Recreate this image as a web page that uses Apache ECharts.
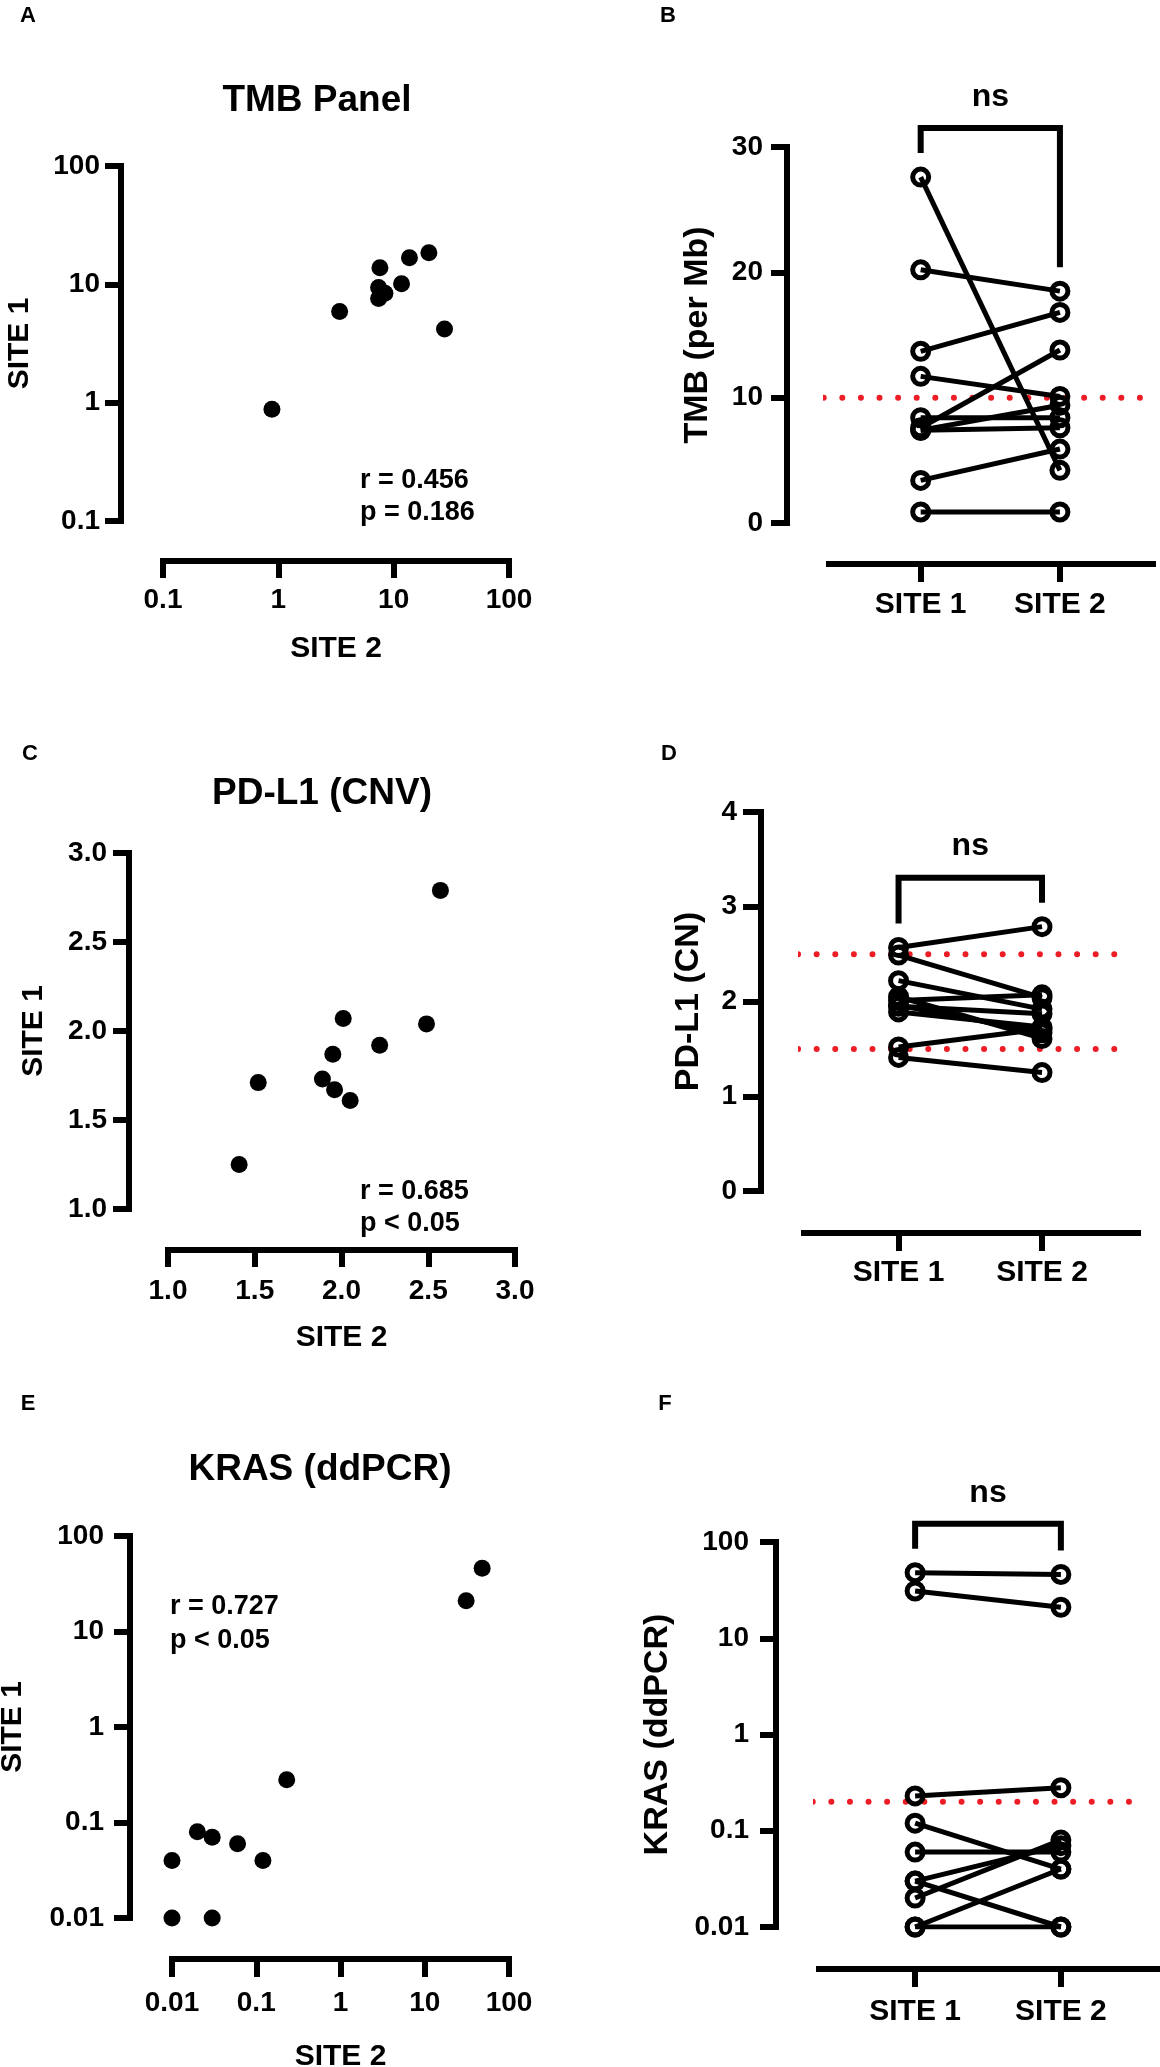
<!DOCTYPE html>
<html>
<head>
<meta charset="utf-8">
<title>Site 1 vs Site 2</title>
<script src="https://cdn.jsdelivr.net/npm/echarts@6/dist/echarts.min.js"></script>
<style>
  html, body { margin: 0; padding: 0; background: #fff; }
  #main { width: 1160px; height: 2067px; }
</style>
</head>
<body>
<div id="main"></div>
<script>
// ---- data ----
var siteNames = ['SITE 1', 'SITE 2'];

// TMB (per Mb), one entry per patient
var tmbSite1 = [27.6, 20.2, 13.7, 11.7, 8.4, 7.6, 7.4, 7.4, 3.4, 0.88];
var tmbSite2 = [4.2, 18.5, 16.8, 10.1, 8.4, 13.8, 9.4, 7.6, 5.9, 0.88];

// PD-L1 copy number
var pdl1Site1 = [2.57, 2.49, 2.22, 2.05, 2.01, 1.96, 1.95, 1.89, 1.52, 1.41];
var pdl1Site2 = [2.79, 2.04, 1.92, 1.61, 2.07, 1.67, 1.87, 1.73, 1.71, 1.25];

// KRAS ddPCR
var krasSite1 = [48, 31, 0.23, 0.12, 0.06, 0.02, 0.03, 0.01, 0.01, 0.03];
var krasSite2 = [46, 21, 0.28, 0.04, 0.06, 0.08, 0.07, 0.04, 0.01, 0.01];

// cut-offs (red dotted lines)
var tmbCut = [10];
var pdl1Cut = [2.5, 1.5];
var krasCut = [0.2];

var statsText = ['r = 0.456\np = 0.186', 'r = 0.685\np < 0.05', 'r = 0.727\np < 0.05'];
var titles = ['TMB Panel', 'PD-L1 (CNV)', 'KRAS (ddPCR)'];

var FONT = '"Liberation Sans", Arial, sans-serif';
var RED = '#ee1c25';

var chart = echarts.init(document.getElementById('main'));

function fmtNum(v) { return String(+(+v).toPrecision(6)); }
function fmtSite(v) { return siteNames[Math.round(v) - 1]; }

// one axis, GraphPad look: thick black line, outside ticks, bold labels
function axis(o) {
	var a = {
		gridIndex: o.grid,
		type: o.type,
		min: o.min,
		max: o.max,
		offset: o.offset,
		name: o.name || '',
		nameLocation: 'middle',
		nameGap: o.nameGap || 0,
		nameMoveOverlap: false,
		nameTextStyle: { fontSize: o.nameSize || 30, fontWeight: 'bold', color: '#000', fontFamily: FONT },
		axisLine: { show: true, onZero: false, lineStyle: { color: '#000', width: 6, cap: o.custom ? 'butt' : 'square' } },
		axisTick: { show: true, length: o.tickLen || 16, lineStyle: { color: '#000', width: 6 } },
		axisLabel: {
			margin: o.margin,
			fontSize: o.labelSize || 28,
			fontWeight: 'bold',
			color: '#000',
			fontFamily: FONT
		},
		splitLine: { show: false },
		minorTick: { show: false },
		minorSplitLine: { show: false }
	};
	if (o.formatter) a.axisLabel.formatter = o.formatter;
	if (o.interval != null) a.interval = o.interval;
	if (o.type === 'log') a.logBase = 10;
	if (o.custom) {
		a.axisTick.customValues = o.custom;
		a.axisLabel.customValues = o.custom;
	}
	return a;
}

var grids = [
	{ left: 163, top: 166, width: 346, height: 355 },   // A
	{ left: 826, top: 147, width: 330, height: 376 },   // B
	{ left: 168, top: 853, width: 347, height: 356 },   // C
	{ left: 801, top: 812, width: 340, height: 379 },   // D
	{ left: 172, top: 1536, width: 337, height: 382 },  // E
	{ left: 816, top: 1542, width: 344, height: 385 }   // F
].map(function (g) { g.containLabel = false; g.outerBoundsMode = 'none'; return g; });

var xAxes = [
	axis({ grid: 0, type: 'log', min: 0.1, max: 100, interval: 1, offset: 40, margin: 25, name: 'SITE 2', nameGap: 73, tickLen: 17, formatter: fmtNum }),
	axis({ grid: 1, type: 'value', min: 0.32, max: 2.69, offset: 41, margin: 26, custom: [1, 2], labelSize: 30, tickLen: 18, formatter: fmtSite }),
	axis({ grid: 2, type: 'value', min: 1, max: 3, interval: 0.5, offset: 41, margin: 27, name: 'SITE 2', nameGap: 73, tickLen: 17, formatter: function (v) { return v.toFixed(1); } }),
	axis({ grid: 3, type: 'value', min: 0.32, max: 2.69, offset: 42, margin: 25, custom: [1, 2], labelSize: 30, tickLen: 18, formatter: fmtSite }),
	axis({ grid: 4, type: 'log', min: 0.01, max: 100, interval: 1, offset: 41, margin: 30, name: 'SITE 2', nameGap: 83, tickLen: 18, formatter: fmtNum }),
	axis({ grid: 5, type: 'value', min: 0.32, max: 2.68, offset: 42, margin: 28, custom: [1, 2], labelSize: 30, tickLen: 18, formatter: fmtSite })
];

var yAxes = [
	axis({ grid: 0, type: 'log', min: 0.1, max: 100, interval: 1, offset: 42, margin: 21, name: 'SITE 1', nameGap: 86, formatter: fmtNum }),
	axis({ grid: 1, type: 'value', min: 0, max: 30, interval: 10, offset: 39, margin: 24, name: 'TMB (per Mb)', nameGap: 72, nameSize: 34 }),
	axis({ grid: 2, type: 'value', min: 1, max: 3, interval: 0.5, offset: 39, margin: 22, name: 'SITE 1', nameGap: 80, formatter: function (v) { return v.toFixed(1); } }),
	axis({ grid: 3, type: 'value', min: 0, max: 4, interval: 1, offset: 40, margin: 24, name: 'PD-L1 (CN)', nameGap: 55, nameSize: 34, tickLen: 18 }),
	axis({ grid: 4, type: 'log', min: 0.01, max: 100, interval: 1, offset: 42, margin: 26, name: 'SITE 1', nameGap: 102, formatter: fmtNum }),
	axis({ grid: 5, type: 'log', min: 0.01, max: 100, interval: 1, offset: 40, margin: 27, name: 'KRAS (ddPCR)', nameGap: 101, nameSize: 34, formatter: fmtNum })
];

var series = [];

// scatter panels (A, C, E)
function scatter(idx, s1, s2) {
	series.push({
		type: 'scatter',
		xAxisIndex: idx,
		yAxisIndex: idx,
		symbol: 'circle',
		symbolSize: 17,
		itemStyle: { color: '#000', opacity: 1 },
		data: s1.map(function (v, i) { return [v, s2[i]]; })
	});
}

// paired panels (B, D, F): one line per patient + cut-off lines
function paired(idx, s1, s2, cuts) {
	cuts.forEach(function (c) {
		series.push({
			type: 'line',
			xAxisIndex: idx,
			yAxisIndex: idx,
			clip: false,
			silent: true,
			symbol: 'none',
			z: 1,
			lineStyle: { color: RED, width: 6, type: [0, 18.6], cap: 'round' },
			data: [[0.17, c], [2.58, c]]
		});
	});
	s1.forEach(function (v, i) {
		series.push({
			type: 'line',
			xAxisIndex: idx,
			yAxisIndex: idx,
			symbol: 'circle',
			symbolSize: 16,
			z: 3,
			itemStyle: { color: 'rgba(0,0,0,0)', borderColor: '#000', borderWidth: 5, opacity: 1 },
			lineStyle: { color: '#000', width: 5, opacity: 1 },
			data: [[1, v], [2, s2[i]]]
		});
	});
}

scatter(0, tmbSite1, tmbSite2);
paired(1, tmbSite1, tmbSite2, tmbCut);
scatter(2, pdl1Site1, pdl1Site2);
paired(3, pdl1Site1, pdl1Site2, pdl1Cut);
scatter(4, krasSite1, krasSite2);
paired(5, krasSite1, krasSite2, krasCut);

chart.setOption({
	animation: false,
	backgroundColor: '#fff',
	textStyle: { fontFamily: FONT, fontWeight: 'bold', color: '#000' },
	grid: grids,
	xAxis: xAxes,
	yAxis: yAxes,
	series: series
});

// ---- annotations: letters, titles, r/p, "ns" brackets ----
function txt(s, x, y, size, align, vAlign, lh) {
	var st = {
		text: s,
		fill: '#000',
		font: 'bold ' + size + 'px ' + FONT,
		align: align || 'center',
		verticalAlign: vAlign || 'middle'
	};
	if (lh) st.lineHeight = lh;
	return { type: 'text', x: x, y: y, z: 100, silent: true, style: st };
}

var g = [];
[['A', 28, 16], ['B', 668, 16], ['C', 30, 754], ['D', 669, 754], ['E', 28, 1404], ['F', 665, 1404]].forEach(function (l) {
	g.push(txt(l[0], l[1], l[2], 22));
});
g.push(txt(titles[0], 317, 101, 37));
g.push(txt(titles[1], 322, 794, 37));
g.push(txt(titles[2], 320, 1470, 37));
g.push(txt(statsText[0], 360, 465, 27, 'left', 'top', 32));
g.push(txt(statsText[1], 360, 1176, 27, 'left', 'top', 32));
g.push(txt(statsText[2], 170, 1590, 27, 'left', 'top', 34));

function bracket(idx, s1, s2) {
	var p1 = chart.convertToPixel({ gridIndex: idx }, [1, Math.max.apply(null, s1)]);
	var p2 = chart.convertToPixel({ gridIndex: idx }, [2, Math.max.apply(null, s2)]);
	var y1 = p1[1] - 24, y2 = p2[1] - 24;
	var top = Math.min(y1, y2) - 25;
	g.push({
		type: 'polyline',
		z: 100,
		silent: true,
		shape: { points: [[p1[0], y1], [p1[0], top], [p2[0], top], [p2[0], y2]] },
		style: { stroke: '#000', lineWidth: 6, fill: null, lineJoin: 'miter', lineCap: 'butt' }
	});
	g.push(txt('ns', (p1[0] + p2[0]) / 2, top - 31, 32));
}
bracket(1, tmbSite1, tmbSite2);
bracket(3, pdl1Site1, pdl1Site2);
bracket(5, krasSite1, krasSite2);

chart.setOption({ graphic: { elements: g } });
</script>
</body>
</html>
